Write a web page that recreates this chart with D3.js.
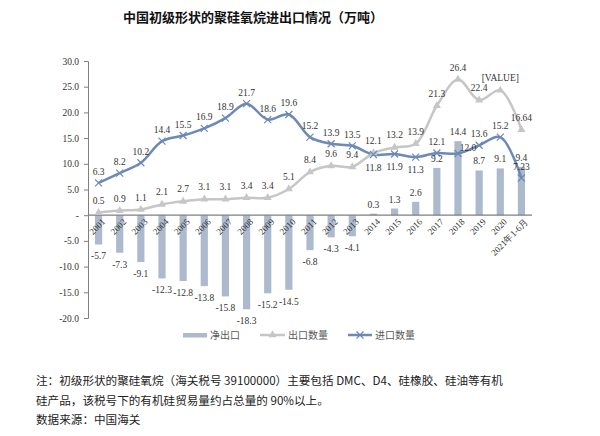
<!DOCTYPE html>
<html><head><meta charset="utf-8">
<script src="https://cdn.jsdelivr.net/npm/d3@7"></script>
<style>body{margin:0;background:#fff}</style>
</head><body>
<svg id="c" width="600" height="436"></svg>
<script>
const categories = ["2001","2002","2003","2004","2005","2006","2007","2008","2009","2010","2011","2012","2013","2014","2015","2016","2017","2018","2019","2020","2021年1-6月"];
const netExport = [-5.7,-7.3,-9.1,-12.3,-12.8,-13.8,-15.8,-18.3,-15.2,-14.5,-6.8,-4.3,-4.1,0.3,1.3,2.6,9.2,14.4,8.7,9.1,9.4];
const exportQty = [0.5,0.9,1.1,2.1,2.7,3.1,3.1,3.4,3.4,5.1,8.4,9.6,9.4,12.1,13.2,13.9,21.3,26.4,22.4,24.3,16.64];
const importQty = [6.3,8.2,10.2,14.4,15.5,16.9,18.9,21.7,18.6,19.6,15.2,13.9,13.5,11.8,11.9,11.3,12.1,12.0,13.6,15.2,7.23];
const exportLabels = ["0.5","0.9","1.1","2.1","2.7","3.1","3.1","3.4","3.4","5.1","8.4","9.6","9.4","12.1","13.2","13.9","21.3","26.4","22.4","[VALUE]","16.64"];
const importLabels = ["6.3","8.2","10.2","14.4","15.5","16.9","18.9","21.7","18.6","19.6","15.2","13.9","13.5","11.8","11.9","11.3","12.1","12.0","13.6","15.2","7.23"];
const yTicks = [30,25,20,15,10,5,0,-5,-10,-15,-20];
const seriesNames = ["净出口","出口数量","进口数量"];

const fmt = d3.formatLocale({decimal:".",thousands:",",grouping:[3],currency:["",""],minus:"-"}).format(".1f");

const svg = d3.select("#c");
const x = d3.scaleBand().domain(categories).range([88,532]);
const y = d3.scaleLinear().domain([-20,30]).range([318,61]);
const cx = d => x(d) + x.bandwidth()/2;
const serif = "'Liberation Serif','Times New Roman',serif";
const cjk = "'Noto Sans CJK SC',sans-serif";
const barColor = "#adb9cd", expColor = "#c6c6c6", impColor = "#6d89b6";

svg.append("text").attr("x",253).attr("y",22).attr("text-anchor","middle")
  .attr("font-family",cjk).attr("font-weight","bold").attr("font-size",13).attr("fill","#111")
  .text("中国初级形状的聚硅氧烷进出口情况（万吨）");

// y axis
const yAxis = d3.axisLeft(y).tickValues(yTicks).tickSize(4)
  .tickFormat(d => d === 0 ? "-" : fmt(d));
const ga = svg.append("g").attr("transform","translate(88,0)").call(yAxis);
ga.select(".domain").attr("stroke","#7f7f7f");
ga.selectAll(".tick line").attr("stroke","#7f7f7f");
ga.selectAll(".tick text").attr("font-family",serif).attr("font-size",9.5).attr("fill","#333").attr("x",-9);

// bars
svg.append("g").selectAll("rect").data(netExport).join("rect")
  .attr("x",(d,i)=>cx(categories[i])-3.6).attr("width",7.2)
  .attr("y",d=>y(Math.max(0,d))).attr("height",d=>Math.abs(y(d)-y(0)))
  .attr("fill",barColor);

// zero line
svg.append("line").attr("x1",88).attr("x2",532).attr("y1",y(0)).attr("y2",y(0))
  .attr("stroke","#7f7f7f").attr("stroke-width",1.2);

// x labels
svg.append("g").selectAll("text").data(categories).join("text")
  .attr("transform",d=>`translate(${cx(d)+5},${y(0)+5}) rotate(-45)`)
  .attr("text-anchor","end").attr("dy","0.35em")
  .attr("font-family",serif).attr("font-size",9).attr("fill","#333").text(d=>d);

const line = d3.line().x((d,i)=>cx(categories[i])).y(d=>y(d)).curve(d3.curveCatmullRom.alpha(0.5));
svg.append("path").datum(exportQty).attr("d",line).attr("fill","none").attr("stroke",expColor).attr("stroke-width",2.5);
svg.append("path").datum(importQty).attr("d",line).attr("fill","none").attr("stroke",impColor).attr("stroke-width",2.5);

// markers
const tri = d3.symbol().type(d3.symbolTriangle).size(28);
svg.append("g").selectAll("path").data(exportQty).join("path")
  .attr("d",tri).attr("transform",(d,i)=>`translate(${cx(categories[i])},${y(d)})`).attr("fill",expColor);
const crossPath = "M-3.5,-3.5L3.5,3.5M-3.5,3.5L3.5,-3.5";
svg.append("g").selectAll("path").data(importQty).join("path")
  .attr("d",crossPath).attr("transform",(d,i)=>`translate(${cx(categories[i])},${y(d)})`)
  .attr("stroke",impColor).attr("stroke-width",1.2).attr("fill","none");

const lbl = (sel) => sel.attr("font-family",serif).attr("font-size",9.5).attr("fill","#333").attr("text-anchor","middle");

// bar labels
svg.append("g").selectAll("text").data(netExport).join("text")
  .attr("x",(d,i)=>cx(categories[i]))
  .attr("y",(d,i)=> d<0 ? y(d)+15 : y(d)-6)
  .call(lbl).text(d=>fmt(d));

// export labels (above)
svg.append("g").selectAll("text").data(exportQty).join("text")
  .attr("x",(d,i)=>cx(categories[i]))
  .attr("y",d=>y(d)-9)
  .call(lbl).text((d,i)=>exportLabels[i]);

// import labels
const below = new Set([13,14,15]);
svg.append("g").selectAll("text").data(importQty).join("text")
  .attr("x",(d,i)=>cx(categories[i]) + (i===17?10:0))
  .attr("y",(d,i)=> below.has(i) ? y(d)+16 : (i===17 ? y(d)-3 : y(d)-8))
  .call(lbl).text((d,i)=>importLabels[i]);

// legend
const lg = svg.append("g");
lg.append("rect").attr("x",183).attr("y",333).attr("width",24).attr("height",4.5).attr("fill",barColor);
lg.append("text").attr("x",210).attr("y",339).text(seriesNames[0]);
lg.append("line").attr("x1",260).attr("x2",285).attr("y1",335).attr("y2",335).attr("stroke",expColor).attr("stroke-width",2.5);
lg.append("path").attr("d",tri).attr("transform","translate(272.5,335)").attr("fill",expColor);
lg.append("text").attr("x",288).attr("y",339).text(seriesNames[1]);
lg.append("line").attr("x1",348).attr("x2",372).attr("y1",335).attr("y2",335).attr("stroke",impColor).attr("stroke-width",2.5);
lg.append("path").attr("d",crossPath).attr("transform","translate(360,335)").attr("stroke",impColor).attr("stroke-width",1.2);
lg.append("text").attr("x",375).attr("y",339).text(seriesNames[2]);
lg.selectAll("text").attr("font-family",cjk).attr("font-size",10).attr("fill","#595959");

// footnote
const notes = ["注：初级形状的聚硅氧烷（海关税号 39100000）主要包括 DMC、D4、硅橡胶、硅油等有机",
  "硅产品，该税号下的有机硅贸易量约占总量的 90%以上。","数据来源：中国海关"];
svg.append("g").selectAll("text").data(notes).join("text")
  .attr("x",36).attr("y",(d,i)=>[385,405,424][i])
  .attr("font-family",cjk).attr("font-size",11.6).attr("fill","#222").text(d=>d);
</script>
</body></html>
